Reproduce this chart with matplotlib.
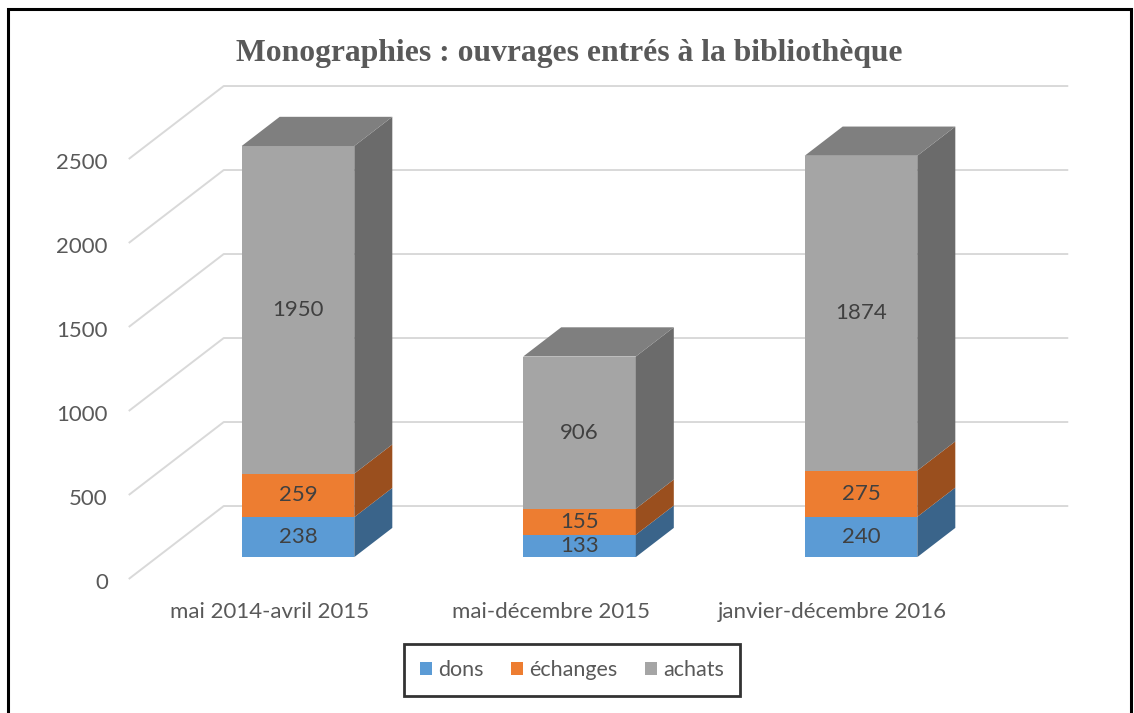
import matplotlib.pyplot as plt
from matplotlib.patches import Polygon, Patch, Rectangle

periodes = ['mai 2014-avril 2015', 'mai-décembre 2015', 'janvier-décembre 2016']
dons = [238, 133, 240]
echanges = [259, 155, 275]
achats = [1950, 906, 1874]
series = ['dons', 'échanges', 'achats']
yticks = [0, 500, 1000, 1500, 2000, 2500]

face = ['#5B9BD5', '#ED7D31', '#A5A5A5']
side = ['#3A648A', '#9A4F1E', '#6B6B6B']
top_col = '#7F7F7F'

# oblique projection of the depth axis (in data units)
DX, DY = 0.3375, 434.5
d0, d1 = 0.3, 0.7      # bar depth span
w = 0.40               # bar width

fig = plt.figure(figsize=(11.34, 7.13), dpi=100)
ax = fig.add_axes([0, 0, 1, 1])
ax.set_xlim((0 - 269.5) / 281.5, (1134 - 269.5) / 281.5)
ax.set_ylim((579 - 713) / 0.168, 579 / 0.168)
ax.axis('off')

txt = '#595959'
font = 'Lato'
fs = 16

# gridlines: floor edge + back wall
for v in yticks:
    ax.plot([-0.5, -0.5 + DX, 2.5 + DX], [v, v + DY, v + DY],
            color='#D9D9D9', lw=1.4, zorder=1, solid_capstyle='butt')
    ax.text(-0.574, v - 24, str(v), ha='right', va='center',
            fontsize=fs, color=txt, family=font)

for i, lab in enumerate(periodes):
    ax.text(i, -196, lab, ha='center', va='center', fontsize=fs,
            color=txt, family=font)

stack = [dons, echanges, achats]
for i in range(len(periodes)):
    xc = i + d0 * DX
    xl, xr = xc - w / 2, xc + w / 2
    f = d0 * DY
    sx, sy = (d1 - d0) * DX, (d1 - d0) * DY
    bottom = 0
    for k, vals in enumerate(stack):
        b, t = bottom, bottom + vals[i]
        ax.add_patch(Rectangle((xl, b + f), w, vals[i], facecolor=face[k],
                               edgecolor='none', zorder=3))
        ax.add_patch(Polygon([(xr, b + f), (xr + sx, b + f + sy),
                              (xr + sx, t + f + sy), (xr, t + f)],
                             closed=True, facecolor=side[k],
                             edgecolor='none', zorder=3))
        ax.text(xc, (b + t) / 2 + f, str(vals[i]), ha='center', va='center',
                fontsize=fs, color='#404040', family=font, zorder=4)
        bottom = t
    ax.add_patch(Polygon([(xl, bottom + f), (xl + sx, bottom + f + sy),
                          (xr + sx, bottom + f + sy), (xr, bottom + f)],
                         closed=True, facecolor=top_col, edgecolor='none',
                         zorder=3))

fig.text(569 / 1134, 1 - 53 / 713,
         'Monographies : ouvrages entrés à la bibliothèque',
         ha='center', va='center', fontsize=22.8, color=txt,
         family='Liberation Serif', weight='bold')

handles = [Patch(facecolor=c, edgecolor='none') for c in face]
leg = fig.legend(handles, series, loc='center', ncol=3,
                 bbox_to_anchor=(572 / 1134, 1 - 670 / 713),
                 frameon=True, fancybox=False, handlelength=0.55,
                 handleheight=0.55, handletextpad=0.32, columnspacing=1.25,
                 borderpad=0.75, prop={'family': font, 'size': 15.5})
leg.get_frame().set_edgecolor('black')
leg.get_frame().set_linewidth(2)
for t in leg.get_texts():
    t.set_color(txt)

# outer frame of the screenshot
fig.patches.append(Rectangle((8 / 1134, -0.05), (1131 - 8) / 1134,
                             1.05 - 9 / 713, transform=fig.transFigure,
                             fill=False, edgecolor='black', lw=2.2))

fig.savefig('out.png', dpi=100)
